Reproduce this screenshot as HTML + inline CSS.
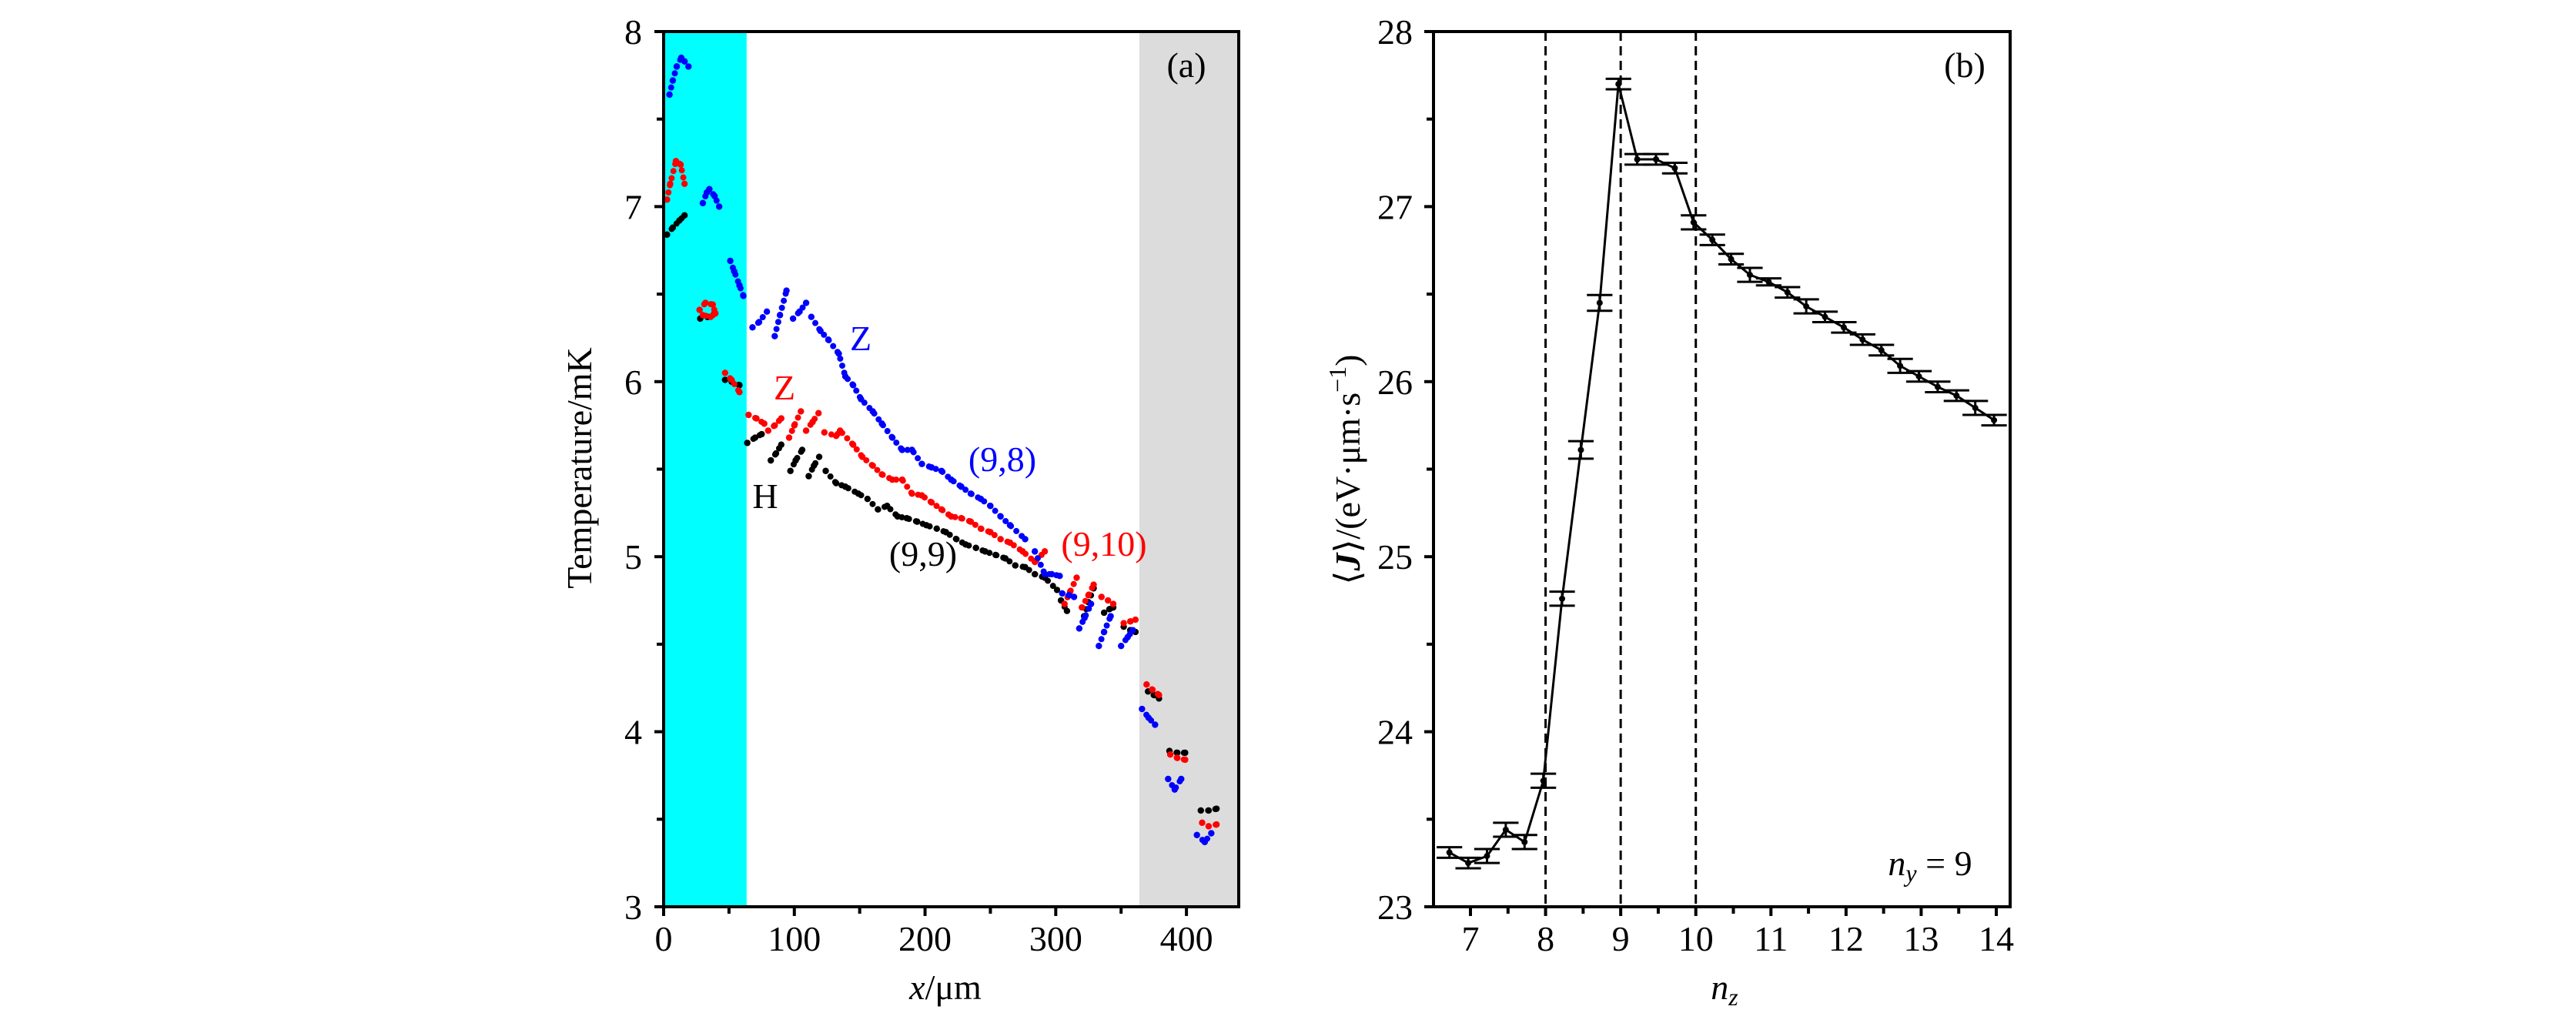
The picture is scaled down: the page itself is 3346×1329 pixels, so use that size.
<!DOCTYPE html>
<html><head><meta charset="utf-8">
<style>
html,body{margin:0;padding:0;background:#fff;}
svg{display:block;font-family:"Liberation Serif",serif;}
</style></head>
<body>
<svg id="fig" width="3346" height="1329" viewBox="0 0 3346 1329" xmlns="http://www.w3.org/2000/svg">
<g id="pa"></g>
<g id="pb"></g>
</svg>
<script>
// ---------- Panel (a) data: segments of [x(um), T(mK)] ----------
const blueSegs = [
 [[4.5,7.64],[7,7.72],[10,7.8],[13.5,7.85],[16,7.83],[19,7.8]],
 [[30,7.02],[33,7.08],[35,7.1],[39,7.06],[42.5,7.0]],
 [[51,6.69],[54,6.63],[58,6.55],[61,6.49]],
 [[68,6.31],[73,6.34],[79,6.4]],
 [[85,6.26],[89,6.38],[94,6.52]],
 [[99,6.36],[104,6.4],[109,6.45]],
 [[113,6.37],[120,6.29],[126,6.24],[134,6.16],[139,6.03],[145,5.98],[151,5.9],[160,5.83],[167,5.76],[175,5.68],[182.5,5.61],[190,5.61],[197.5,5.53],[205,5.51],[212.6,5.49],[220,5.44],[227.7,5.4],[235,5.36],[242.7,5.33],[250,5.29],[257.8,5.23],[265,5.18],[276.6,5.1]],
 [[284,5.03],[291.6,4.9],[297,4.9],[303,4.89]],
 [[305,4.79],[310,4.78],[314,4.77]],
 [[318,4.59],[322,4.65],[327,4.73]],
 [[333,4.49],[337,4.57],[342,4.66]],
 [[350,4.49],[355,4.54],[359,4.58]],
 [[366,4.13],[371,4.08],[376,4.04]],
 [[386,3.73],[391,3.67],[396,3.73]],
 [[408,3.41],[414,3.37],[419,3.42]]
];
const redSegs = [
 [[2.6,7.04],[5,7.13],[9.4,7.26],[13,7.24],[16,7.13]],
 [[27.5,6.41],[32,6.45],[37.6,6.44],[39.5,6.39],[36,6.37],[30,6.38]],
 [[47,6.05],[52,6.01],[58,5.94]],
 [[65,5.81],[71,5.79],[77,5.76]],
 [[80,5.72],[85,5.75],[90,5.79]],
 [[96,5.68],[100,5.75],[105,5.83]],
 [[109,5.72],[114,5.77],[118.5,5.82]],
 [[123,5.71],[132,5.69],[135,5.72],[145,5.64],[152,5.57],[160,5.52],[167,5.47],[175,5.44],[182.5,5.44],[190,5.36],[197.5,5.35],[205,5.31],[212.6,5.27],[220,5.23],[227.7,5.22],[235,5.2],[242.7,5.16],[250,5.14],[257.8,5.1],[265,5.08],[274.7,5.03],[284,4.97],[291.6,5.03]],
 [[306.7,4.73],[311,4.8],[316,4.88]],
 [[320,4.71],[325,4.78],[329,4.84]],
 [[335,4.77],[340,4.75],[344,4.73]],
 [[352,4.62],[357,4.63],[361,4.64]],
 [[369.5,4.27],[374,4.24],[379,4.21]],
 [[387.6,3.87],[393,3.85],[399,3.84]],
 [[412,3.48],[417,3.46],[423,3.47]]
];
const blackSegs = [
 [[2.6,6.84],[7,6.88],[12,6.92],[16,6.95]],
 [[28,6.36],[34,6.37],[39.5,6.39]],
 [[47,6.01],[52,6.0],[58,5.98]],
 [[64,5.65],[70,5.68],[75,5.7]],
 [[82,5.55],[86,5.59],[90,5.64]],
 [[97,5.49],[101,5.55],[106,5.61]],
 [[111,5.46],[115,5.52],[119,5.57]],
 [[124,5.49],[132,5.42],[139,5.4],[149,5.36],[156,5.33],[164,5.27],[171,5.29],[179,5.23],[186,5.22],[194,5.2],[201,5.18],[209,5.16],[216,5.14],[224,5.1],[231,5.07],[239,5.05],[246,5.03],[254,5.01],[261.5,4.99],[269,4.95],[276.6,4.94],[284,4.9],[291.6,4.88],[301,4.81]],
 [[304,4.75],[308.6,4.69]],
 [[321.7,4.66],[325,4.74],[329,4.82]],
 [[337,4.68],[341,4.7],[344,4.71]],
 [[352,4.6],[357,4.58],[361,4.57]],
 [[370.6,4.23],[375,4.21],[379,4.19]],
 [[387,3.89],[393,3.88],[399,3.88]],
 [[411,3.55],[417,3.55],[423,3.56]]
];
const aXTicks = [0,100,200,300,400];
const aYTicks = [3,4,5,6,7,8];
// ---------- Panel (b) data ----------
const nzVals = [6.72,6.97,7.22,7.47,7.72,7.97,8.22,8.47,8.72,8.97,9.22,9.47,9.72,9.97,10.22,10.47,10.72,10.97,11.22,11.47,11.72,11.97,12.22,12.47,12.72,12.97,13.22,13.47,13.72,13.97];
const jVals = [23.31,23.25,23.29,23.44,23.37,23.72,24.76,25.61,26.45,27.7,27.27,27.27,27.22,26.91,26.81,26.7,26.61,26.57,26.51,26.43,26.37,26.31,26.24,26.18,26.09,26.03,25.97,25.92,25.85,25.78];
const jErr = [0.03,0.03,0.04,0.04,0.04,0.04,0.04,0.05,0.045,0.03,0.03,0.03,0.03,0.04,0.03,0.03,0.04,0.02,0.03,0.04,0.03,0.03,0.03,0.03,0.04,0.03,0.03,0.03,0.04,0.03];
const bXTicks = [7,8,9,10,11,12,13,14];
const bYTicks = [23,24,25,26,27,28];
const dashLines = [8,9,10];

const NS="http://www.w3.org/2000/svg";
function mk(parent,tag,attrs,text){const e=document.createElementNS(NS,tag);for(const k in attrs)e.setAttribute(k,attrs[k]);if(text!==undefined)e.textContent=text;parent.appendChild(e);return e;}

// Panel a scales
const aL=862,aR=1609,aT=41,aB=1178;
const ax=v=>aL+(v-0)*(aR-aL)/440;
const ay=v=>aB-(v-3)*(aB-aT)/5;
const pa=document.getElementById('pa');
let r=mk(pa,'rect',{x:ax(0),y:aT,width:ax(63.5)-ax(0),height:aB-aT,fill:'#00ffff'});


r=mk(pa,'rect',{x:ax(364),y:aT,width:aR-ax(364),height:aB-aT,fill:'#dcdcdc'});


function drawSegs(segs,color,name){
  const g=mk(pa,'g',{});
  
  
  segs.forEach(seg=>{
    const pts=seg.map(p=>ax(p[0]).toFixed(1)+','+ay(p[1]).toFixed(1)).join(' ');
    const pl=mk(g,'polyline',{points:pts,fill:'none',stroke:color,'stroke-width':8,'stroke-linecap':'round','stroke-dasharray':'0 9.5'});
    
    
    seg.forEach(p=>{const c=mk(g,'circle',{cx:ax(p[0]),cy:ay(p[1]),r:4.2,fill:color});
      
      });
  });
}
drawSegs(blackSegs,'#000','series-9-9');
drawSegs(redSegs,'#ff0000','series-9-10');
drawSegs(blueSegs,'#0000ff','series-9-8');
let fr=mk(pa,'rect',{x:aL,y:aT,width:aR-aL,height:aB-aT,fill:'none',stroke:'#000','stroke-width':4});


for(let v=0;v<=440;v+=50){const x=ax(v);const major=aXTicks.includes(v);mk(pa,'line',{x1:x,x2:x,y1:aB,y2:aB+(major?12:9),stroke:'#000','stroke-width':4});}
aXTicks.forEach(v=>{const t=mk(pa,'text',{x:ax(v),y:1235,'font-size':46,'text-anchor':'middle'},String(v));
 
 });
for(let v=3;v<=8.001;v+=0.5){const y=ay(v);const major=Math.abs(v-Math.round(v))<1e-6;mk(pa,'line',{x1:aL,x2:aL-(major?12:9),y1:y,y2:y,stroke:'#000','stroke-width':4});}
aYTicks.forEach(v=>{const t=mk(pa,'text',{x:834,y:ay(v)+16,'font-size':46,'text-anchor':'end'},String(v));
 
 });
let tt=mk(pa,'text',{x:0,y:0,'font-size':46,'text-anchor':'middle',transform:'translate(768,608) rotate(-90)'},'Temperature/mK');


tt=mk(pa,'text',{x:1228,y:1298,'font-size':46,'text-anchor':'middle'});


mk(tt,'tspan',{'font-style':'italic'},'x');mk(tt,'tspan',{},'/μm');
const labelsA=[['(a)',1541,100,'#000','panel-label-a'],['Z',1118,455,'#0000ff','label-z-blue'],['Z',1019,519,'#ff0000','label-z-red'],['H',994,660,'#000','label-h'],['(9,8)',1302,612,'#0000ff','label-9-8'],['(9,10)',1434,722,'#ff0000','label-9-10'],['(9,9)',1199,735,'#000','label-9-9']];
labelsA.forEach(l=>{const t=mk(pa,'text',{x:l[1],y:l[2],'font-size':46,'text-anchor':'middle',fill:l[3]},l[0]);
 
 });

// Panel b scales
const bL=1862,bR=2611,bT=41,bB=1178;
const bx=v=>1910+(v-7)*(2593-1910)/7;
const by=v=>bB-(v-23)*(bB-bT)/5;
const pb=document.getElementById('pb');
dashLines.forEach(v=>{const l=mk(pb,'line',{x1:bx(v),x2:bx(v),y1:bT,y2:bB,stroke:'#000','stroke-width':3,'stroke-dasharray':'12 7'});
 
 });
let line=mk(pb,'polyline',{points:nzVals.map((v,i)=>bx(v).toFixed(1)+','+by(jVals[i]).toFixed(1)).join(' '),fill:'none',stroke:'#000','stroke-width':3});


nzVals.forEach((v,i)=>{
 const g=mk(pb,'g',{});
 
 
 const x=bx(v),y1=by(jVals[i]+jErr[i]),y2=by(jVals[i]-jErr[i]),hw=(bx(0.17)-bx(0));
 mk(g,'line',{x1:x,x2:x,y1:y1,y2:y2,stroke:'#000','stroke-width':3});
 mk(g,'line',{x1:x-hw,x2:x+hw,y1:y1,y2:y1,stroke:'#000','stroke-width':3});
 mk(g,'line',{x1:x-hw,x2:x+hw,y1:y2,y2:y2,stroke:'#000','stroke-width':3});
 const c=mk(pb,'circle',{cx:x,cy:by(jVals[i]),r:4,fill:'#000'});
 
 
});
fr=mk(pb,'rect',{x:bL,y:bT,width:bR-bL,height:bB-bT,fill:'none',stroke:'#000','stroke-width':4});


for(let v=7;v<=14.01;v+=0.5){const x=bx(v);const major=Math.abs(v-Math.round(v))<1e-6;mk(pb,'line',{x1:x,x2:x,y1:bB,y2:bB+(major?12:9),stroke:'#000','stroke-width':4});}
bXTicks.forEach(v=>{const t=mk(pb,'text',{x:bx(v),y:1235,'font-size':46,'text-anchor':'middle'},String(v));
 
 });
for(let v=23;v<=28.001;v+=0.5){const y=by(v);const major=Math.abs(v-Math.round(v))<1e-6;mk(pb,'line',{x1:bL,x2:bL-(major?12:9),y1:y,y2:y,stroke:'#000','stroke-width':4});}
bYTicks.forEach(v=>{const t=mk(pb,'text',{x:1835,y:by(v)+16,'font-size':46,'text-anchor':'end'},String(v));
 
 });
tt=mk(pb,'text',{x:0,y:0,'font-size':46,'text-anchor':'middle',transform:'translate(1766,610) rotate(-90)'});


mk(tt,'tspan',{},'⟨');mk(tt,'tspan',{'font-weight':'bold','font-style':'italic'},'J');mk(tt,'tspan',{},'⟩/(eV·μm·s');mk(tt,'tspan',{'font-size':32,dy:-18},'−1');mk(tt,'tspan',{dy:18},')');
tt=mk(pb,'text',{x:2240,y:1298,'font-size':46,'text-anchor':'middle'});


mk(tt,'tspan',{'font-style':'italic'},'n');mk(tt,'tspan',{'font-style':'italic','font-size':32,dy:8},'z');
let lb=mk(pb,'text',{x:2552,y:100,'font-size':46,'text-anchor':'middle'},'(b)');


lb=mk(pb,'text',{x:2507,y:1137,'font-size':46,'text-anchor':'middle'});


mk(lb,'tspan',{'font-style':'italic'},'n');mk(lb,'tspan',{'font-style':'italic','font-size':32,dy:8},'y');mk(lb,'tspan',{dy:-8},' = 9');
</script>
</body></html>
